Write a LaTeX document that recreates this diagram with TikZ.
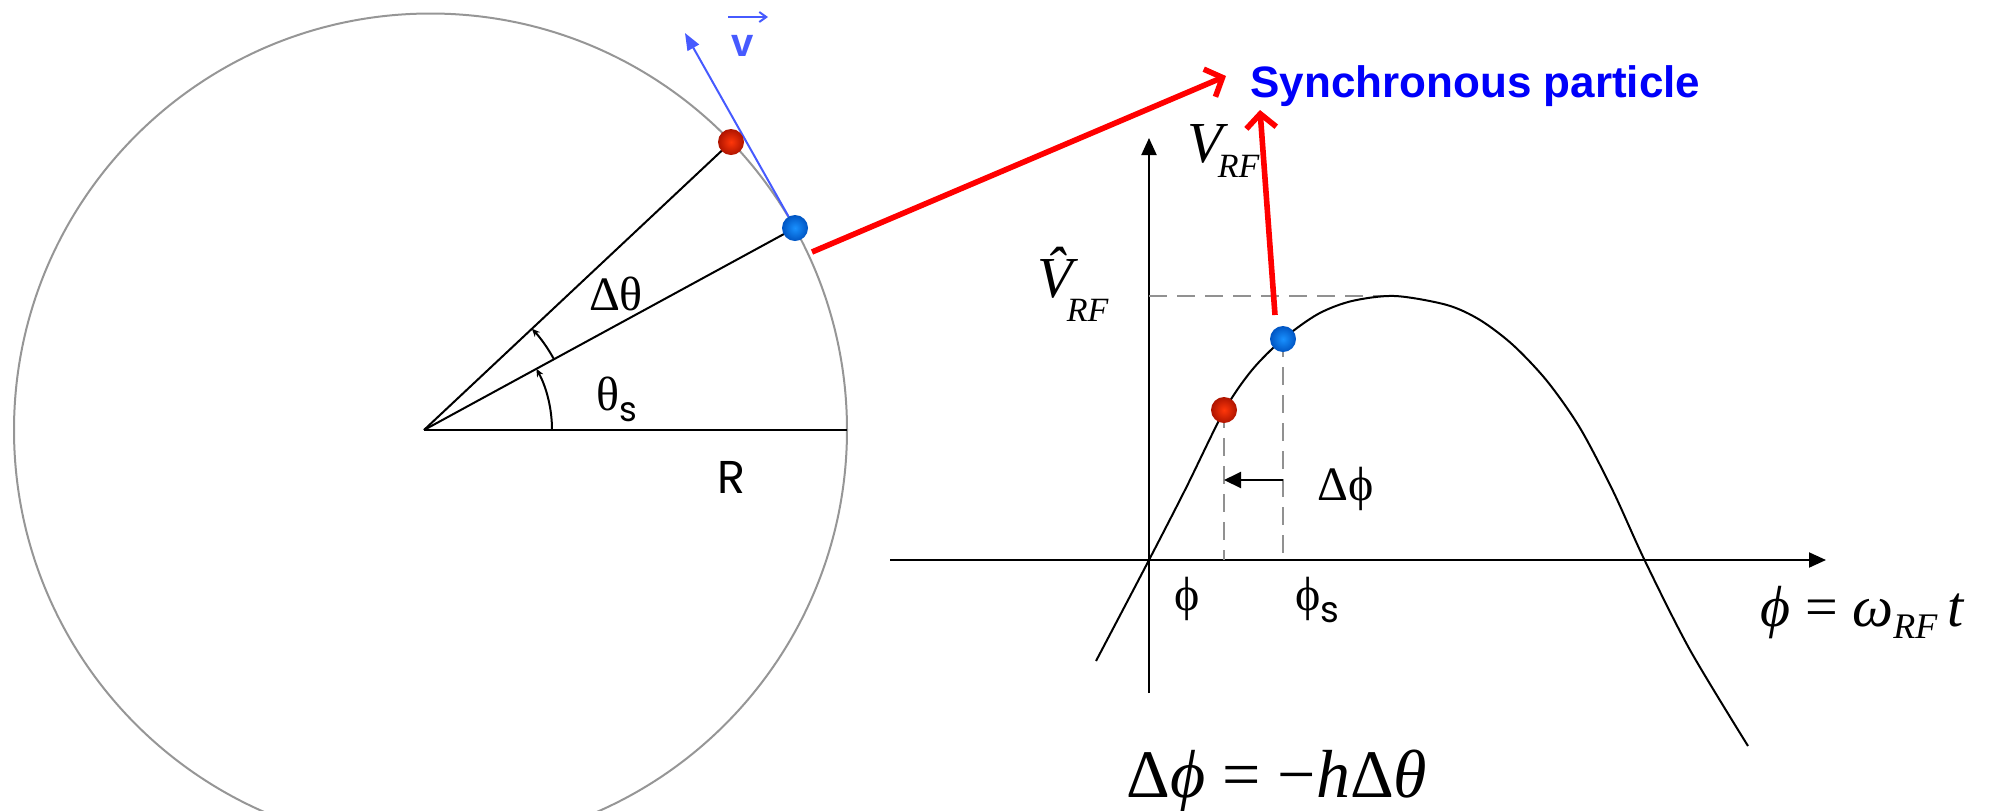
\documentclass[tikz,border=0pt]{standalone}
\usepackage{fontspec}
\setmainfont{Liberation Serif}
\newfontfamily\sansb{Liberation Sans}
\newfontfamily\comic{Poppins}
\usetikzlibrary{arrows.meta,calc}
\definecolor{circgray}{RGB}{150,150,150}
\definecolor{vblue}{RGB}{70,90,255}
\definecolor{synblue}{RGB}{0,0,250}
\definecolor{dashgray}{RGB}{145,145,145}
\definecolor{redin}{RGB}{255,55,10}
\definecolor{redout}{RGB}{175,20,0}
\definecolor{bluein}{RGB}{25,145,255}
\definecolor{blueout}{RGB}{0,85,195}
\tikzset{
  blk/.style={line width=1pt,black},
  axisarrow/.style={line width=1pt,-{Triangle[length=8.5pt,width=7.5pt]}},
  redarrow/.style={line width=2.8pt,red,-{Straight Barb[length=7pt,width=15pt]}},
  dashln/.style={dashgray,line width=1pt,dash pattern=on 9pt off 5pt},
  reddot/.style={circle,minimum size=13pt,inner sep=0pt,shading=radial,inner color=redin,outer color=redout},
  bluedot/.style={circle,minimum size=13pt,inner sep=0pt,shading=radial,inner color=bluein,outer color=blueout},
  lbl/.style={inner sep=0pt,anchor=base},
  lblw/.style={inner sep=0pt,anchor=base west},
}
\begin{document}
\begin{tikzpicture}[x=0.5pt,y=-0.5pt]
\useasboundingbox (0,0) rectangle (1993,810);
\begin{scope}
\clip (0,0) rectangle (1993,810);
\draw[circgray,line width=1pt] (430.5,430) circle[radius=416.5];
\end{scope}
% circle part
\coordinate (O) at (424,430);
\coordinate (E) at (847,430);
\coordinate (B1) at (795,228);
\coordinate (R1) at (731,142);
\coordinate (vt) at (685,33);
\draw[vblue,line width=1pt,-{Triangle[length=8.5pt,width=6.5pt]}] (B1) -- (vt);
\draw[blk] (O) -- (E);
\draw[blk] (O) -- (B1);
\draw[blk] (O) -- (R1);
\draw[blk,-{Stealth[length=4pt,width=3.5pt]}] ($(O)+(128,0)$) arc[start angle=0,end angle=-28.57,radius=128];
\draw[blk,-{Stealth[length=4pt,width=3.5pt]}] ($(O)+(-28.57:148)$) arc[start angle=-28.57,end angle=-43.17,radius=148];
\node[reddot] (r1) at (R1) {};
\node[bluedot] (b1) at (B1) {};
\node[lbl,font=\fontsize{24}{24}\selectfont] (dth) at (616,310) {Δθ};
\node[lblw,font=\fontsize{24}{24}\selectfont] (ths) at (596,410) {θ\raisebox{-5.5pt}{\comic\fontsize{17}{17}\selectfont s}};
\node[lbl,font=\comic\fontsize{23}{23}\selectfont] (rlab) at (731,493) {R};
\node[lbl,font=\sansb\bfseries\fontsize{20}{20}\selectfont,text=vblue] (vlab) at (743,56) {v};
\coordinate (va) at (728,17);
\coordinate (vb) at (768,17);
\draw[vblue,line width=1pt,-{Straight Barb[length=3.5pt,width=5pt]}] (va) -- (vb);
% synchronous particle
\node[lblw,font=\sansb\bfseries\fontsize{22}{22}\selectfont,text=synblue] (sync) at (1250,97) {Synchronous particle};
\coordinate (a1s) at (812,252);
\coordinate (a1e) at (1226,76);
\draw[redarrow] (a1s) -- (a1e);
% graph
\coordinate (G0) at (1149,560);
\coordinate (xs) at (890,560);
\coordinate (xe) at (1826,560);
\coordinate (ys) at (1149,693);
\coordinate (ye) at (1149,138);
\draw[axisarrow] (xs) -- (xe);
\draw[axisarrow] (ys) -- (ye);
\coordinate (pk) at (1390,296);
\draw[dashln] (ye |- pk) -- (pk);
\draw[blk] plot[smooth,tension=0.5] coordinates {(1096,661) (1149,560) (1186,488) (1224,411) (1252,370) (1283,339) (1318,314) (1352,301) (1395,296) (1447,305) (1480,320) (1513,345) (1547,381) (1580,428) (1613,491) (1645,561) (1690,650) (1748,746)};
\coordinate (R2) at (1224,410);
\coordinate (B2) at (1283,339);
\draw[dashln] (R2) -- (R2 |- G0);
\draw[dashln] (B2) -- (B2 |- G0);
\coordinate (dl) at (0,480);
\draw[blk,-{Triangle[length=8.5pt,width=8pt]}] (B2 |- dl) -- (R2 |- dl);
\node[reddot] (r2) at (R2) {};
\node[bluedot] (b2) at (B2) {};
\coordinate (a2s) at (1275,315);
\coordinate (a2e) at (1260,110);
\draw[redarrow] (a2s) -- (a2e);
% graph labels
\node[lblw] (vrf) at (1187,162) {{\fontsize{29}{29}\selectfont\itshape V}\kern-2.5pt\raisebox{-7.5pt}{\fontsize{17}{17}\selectfont\itshape RF}};
\node[lblw] (vhat) at (1037,297) {{\fontsize{29}{29}\selectfont\itshape \^{V}}\kern-3pt\raisebox{-12pt}{\fontsize{17}{17}\selectfont\itshape RF}};
\node[lbl,font=\fontsize{24}{24}\selectfont] (dphi) at (1346,500) {Δϕ};
\node[lbl,font=\fontsize{24}{24}\selectfont] (phi) at (1187,610) {ϕ};
\node[lblw,font=\fontsize{24}{24}\selectfont] (phis) at (1295,610) {ϕ\raisebox{-6pt}{\comic\fontsize{18}{18}\selectfont s}};
\node[lbl,font=\fontsize{29}{29}\selectfont] (phiw) at (1862,626) {{\itshape ϕ} = {\itshape ω}\raisebox{-6pt}{\fontsize{18}{18}\selectfont\itshape RF}\,{\itshape t}};
\node[lbl,font=\fontsize{34}{34}\selectfont] (eq) at (1277,797) {Δ{\itshape ϕ} = −{\itshape h}Δ{\itshape θ}};
\end{tikzpicture}
\end{document}
